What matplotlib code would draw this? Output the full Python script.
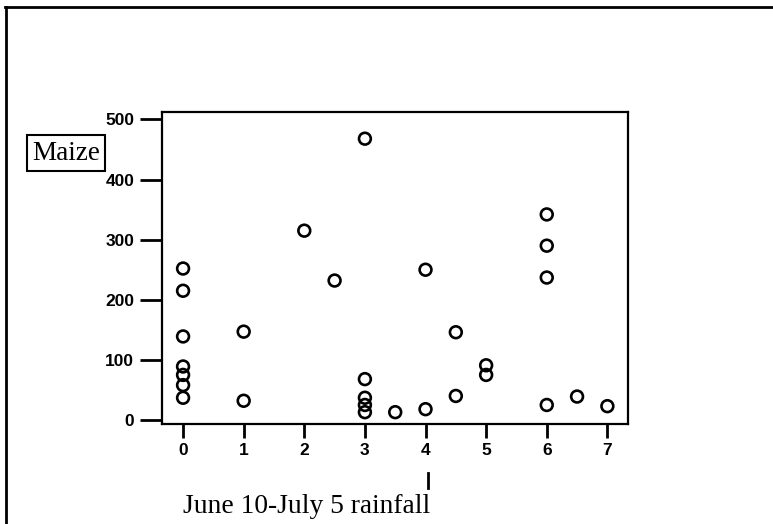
import matplotlib.pyplot as plt
from matplotlib.lines import Line2D

# Data
rainfall = [0, 0, 0, 0, 0, 0, 0,
            1, 1,
            2, 2.5,
            3, 3, 3, 3, 3,
            3.5,
            4, 4,
            4.5, 4.5,
            5, 5,
            6, 6, 6, 6,
            6.5, 7]
maize = [252, 215, 139, 89, 75, 58, 37,
         147, 32,
         315, 232,
         468, 68, 37, 25, 13,
         13,
         250, 18,
         146, 40,
         91, 75,
         342, 290, 237, 25,
         39, 23]
x_ticks = [0, 1, 2, 3, 4, 5, 6, 7]
y_ticks = [0, 100, 200, 300, 400, 500]

fig = plt.figure(figsize=(7.73, 5.24), dpi=100)
ax = fig.add_axes([0.2096, 0.1908, 0.6028, 0.595])

ax.scatter(rainfall, maize, s=72, facecolors='none', edgecolors='black', linewidths=1.9)

ax.set_xlim(-0.347, 7.34)
ax.set_ylim(-6.7, 512)
ax.set_xticks(x_ticks)
ax.set_yticks(y_ticks)
for s in ax.spines.values():
    s.set_linewidth(1.6)
ax.tick_params(axis='both', length=10, width=2, labelsize=12.5, direction='out')
ax.tick_params(axis='x', pad=4)
ax.tick_params(axis='y', length=16, pad=4)
for lab in ax.get_xticklabels() + ax.get_yticklabels():
    lab.set_fontfamily('Liberation Sans')
    lab.set_fontweight('bold')

# axis labels
fig.text(32 / 773, 1 - 153 / 524, 'Maize', family='Liberation Serif', fontsize=19.5,
         va='center', ha='left',
         bbox=dict(boxstyle='square,pad=0.2', facecolor='white', edgecolor='black', linewidth=1.5))
fig.text(183 / 773, 1 - 513 / 524, 'June 10-July 5 rainfall', family='Liberation Serif',
         fontsize=19.8, va='baseline', ha='left')
fig.add_artist(Line2D([428 / 773, 428 / 773], [1 - 473 / 524, 1 - 488 / 524],
                      color='black', linewidth=2))

# outer frame
fig.add_artist(Line2D([5 / 773, 1.0], [1 - 7 / 524, 1 - 7 / 524], color='black', linewidth=2))
fig.add_artist(Line2D([6 / 773, 6 / 773], [1 - 7 / 524, 0.0], color='black', linewidth=2))

fig.savefig('out.png', dpi=100)
